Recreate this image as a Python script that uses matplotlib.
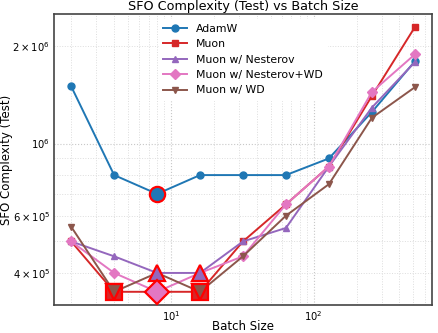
import matplotlib
matplotlib.use("Agg")
import matplotlib.pyplot as plt
import numpy as np

batch_sizes = [2, 4, 8, 16, 32, 64, 128, 256, 512]
adamw = [1.5e6, 8.0e5, 7.0e5, 8.0e5, 8.0e5, 8.0e5, 9.0e5, 1.25e6, 1.79e6]
muon = [5.0e5, 3.5e5, 3.5e5, 3.5e5, 5.0e5, 6.5e5, 8.5e5, 1.4e6, 2.28e6]
muon_nest = [5.0e5, 4.5e5, 4.0e5, 4.0e5, 5.0e5, 5.5e5, 8.5e5, 1.29e6, 1.78e6]
muon_nest_wd = [5.0e5, 4.0e5, 3.5e5, 4.0e5, 4.5e5, 6.5e5, 8.5e5, 1.44e6, 1.88e6]
muon_wd = [5.55e5, 3.5e5, 4.0e5, 3.5e5, 4.5e5, 6.0e5, 7.5e5, 1.2e6, 1.49e6]

# highlighted (minimum) points per series, as indices into batch_sizes
hl_adamw = [2]
hl_muon = [1, 3]
hl_nest = [2, 3]
hl_nest_wd = [2]
hl_wd = [1, 3]

series = [
    ("AdamW", adamw, "o", "#1f77b4", hl_adamw),
    ("Muon", muon, "s", "#d62728", hl_muon),
    ("Muon w/ Nesterov", muon_nest, "^", "#9467bd", hl_nest),
    ("Muon w/ Nesterov+WD", muon_nest_wd, "D", "#e377c2", hl_nest_wd),
    ("Muon w/ WD", muon_wd, "v", "#8c564b", hl_wd),
]

fig = plt.figure(figsize=(4.39, 3.33), dpi=100)
ax = fig.add_axes([0.123, 0.084, 0.861, 0.874])

for name, vals, mk, col, hl in series:
    ms = 5.5 if mk == "D" else 5
    ax.plot(batch_sizes, vals, marker=mk, color=col, label=name, lw=1.4, ms=ms)

for name, vals, mk, col, hl in series:
    bx = [batch_sizes[i] for i in hl]
    by = [vals[i] for i in hl]
    big = 12 if mk == "D" else 11
    ax.plot(bx, by, ls="none", marker=mk, color=col, ms=big, mec="red", mew=1.6, zorder=5)

ax.set_xscale("log")
ax.set_yscale("log")
ax.grid(True, which="major", ls=":", color="#c8c8c8", lw=0.8)
ax.grid(True, which="minor", ls=":", color="#dddddd", lw=0.7)
ax.set_axisbelow(True)
for s in ax.spines.values():
    s.set_color("#444444")
    s.set_linewidth(1.2)
ax.set_title("SFO Complexity (Test) vs Batch Size", fontsize=9.2, pad=3)
ax.set_xlabel("Batch Size", fontsize=8.5, va="center")
ax.set_ylabel("SFO Complexity (Test)", fontsize=8.5, va="center")
ax.xaxis.set_label_coords(0.5, -0.075)
ax.yaxis.set_label_coords(-0.126, 0.5)
ax.tick_params(labelsize=7.2, which="both", length=0, pad=3)
leg = ax.legend(loc="upper center", fontsize=7.8, frameon=True, framealpha=1,
                edgecolor="white", handlelength=2.2, bbox_to_anchor=(0.5, 1.0))
fig.savefig("out.png", dpi=100)
